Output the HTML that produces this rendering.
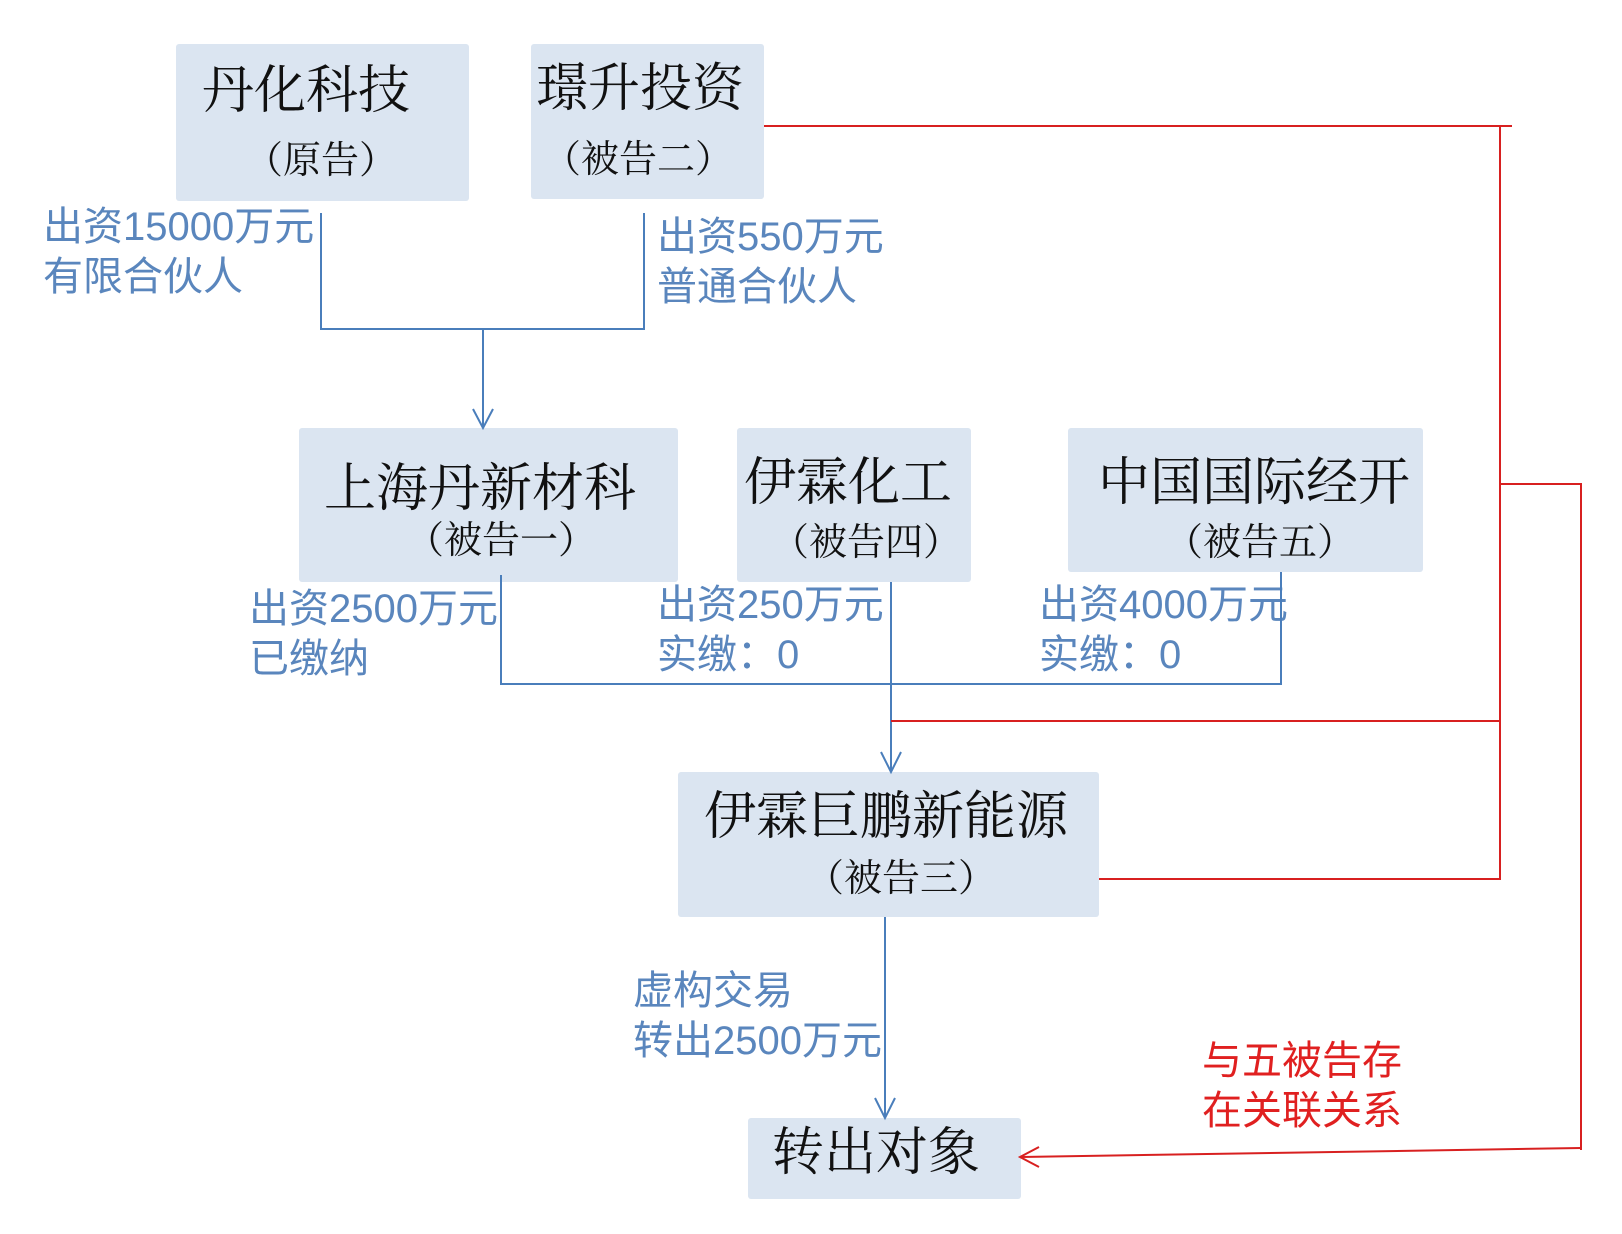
<!DOCTYPE html>
<html><head><meta charset="utf-8"><style>
html,body{margin:0;padding:0;background:#fff;}
body{width:1622px;height:1234px;position:relative;overflow:hidden;}
.box{position:absolute;background:#dbe5f1;border-radius:3px;}
.t{position:absolute;white-space:nowrap;font-family:"Liberation Serif","Noto Serif CJK SC",serif;color:#111;transform:translate(-50%,-50%);line-height:1;}
.big{font-size:52px;}
.sub{font-size:38px;}
.lb{position:absolute;white-space:nowrap;font-family:"Liberation Sans","Noto Sans CJK SC",sans-serif;font-size:40px;color:#5a86bd;line-height:50px;}
.lb b{font-weight:normal;}
.red{color:#e02020;}
svg{position:absolute;left:0;top:0;}
</style></head><body>
<div class="box" style="left:176px;top:44px;width:293px;height:157px"></div>
<div class="box" style="left:531px;top:44px;width:233px;height:155px"></div>
<div class="box" style="left:299px;top:428px;width:379px;height:154px"></div>
<div class="box" style="left:737px;top:428px;width:234px;height:154px"></div>
<div class="box" style="left:1068px;top:428px;width:355px;height:144px"></div>
<div class="box" style="left:678px;top:772px;width:421px;height:145px"></div>
<div class="box" style="left:748px;top:1118px;width:273px;height:81px"></div>

<div class="t big" style="left:306px;top:92px">丹化科技</div>
<div class="t sub" style="left:321px;top:161px">（原告）</div>
<div class="t big" style="left:640px;top:90px">璟升投资</div>
<div class="t sub" style="left:638px;top:160px">（被告二）</div>
<div class="t big" style="left:480px;top:490px">上海丹新材科</div>
<div class="t sub" style="left:501px;top:541px">（被告一）</div>
<div class="t big" style="left:848px;top:484px">伊霖化工</div>
<div class="t sub" style="left:866px;top:543px">（被告四）</div>
<div class="t big" style="left:1254px;top:484px">中国国际经开</div>
<div class="t sub" style="left:1260px;top:543px">（被告五）</div>
<div class="t big" style="left:886px;top:818px">伊霖巨鹏新能源</div>
<div class="t sub" style="left:901px;top:879px">（被告三）</div>
<div class="t big" style="left:876px;top:1154px">转出对象</div>

<div class="lb" style="left:43px;top:202px">出资<b>15000</b>万元<br>有限合伙人</div>
<div class="lb" style="left:657px;top:212px">出资<b>550</b>万元<br>普通合伙人</div>
<div class="lb" style="left:249px;top:584px">出资<b>2500</b>万元<br>已缴纳</div>
<div class="lb" style="left:657px;top:580px">出资<b>250</b>万元<br>实缴：<b>0</b></div>
<div class="lb" style="left:1039px;top:580px">出资<b>4000</b>万元<br>实缴：<b>0</b></div>
<div class="lb" style="left:633px;top:966px">虚构交易<br>转出<b>2500</b>万元</div>
<div class="lb red" style="left:1202px;top:1036px">与五被告存<br>在关联关系</div>

<svg width="1622" height="1234" viewBox="0 0 1622 1234">
<g stroke="#4a7ebb" stroke-width="2" fill="none">
<path d="M321 213V329H644V213"/>
<path d="M483 329V427"/>
<path d="M473 409L483 428L493 409"/>
<path d="M501 575V684H1281V572"/>
<path d="M891 582V771"/>
<path d="M881 752L891 772L901 752"/>
<path d="M885 917V1117"/>
<path d="M875 1098L885 1118L895 1098"/>
</g>
<g stroke="#d82020" stroke-width="2" fill="none">
<path d="M764 126H1512"/>
<path d="M1500 126V879H1099"/>
<path d="M891 721H1500"/>
<path d="M1500 484H1581V1150"/>
<path d="M1581 1148L1021 1157"/>
<path d="M1039 1147L1020 1157L1039 1167"/>
</g>
</svg>
</body></html>
